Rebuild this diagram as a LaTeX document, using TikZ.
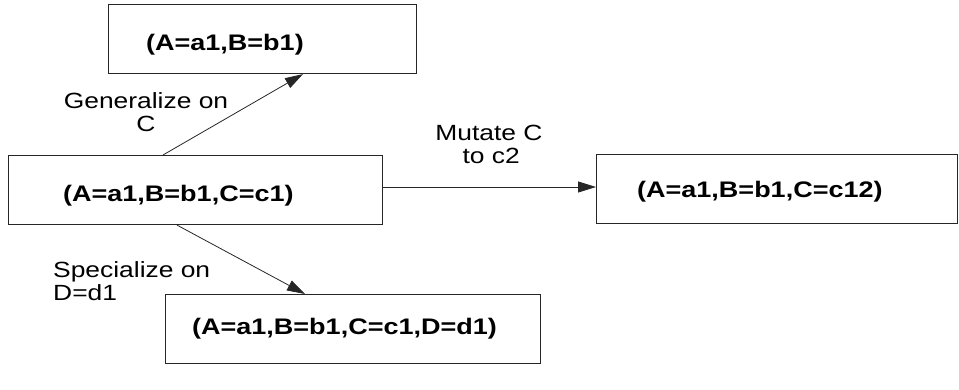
\documentclass[tikz,border=0pt]{standalone}
\usepackage{fontspec}
\usepackage{graphicx}
\setmainfont{Liberation Sans}
\usetikzlibrary{arrows.meta,calc}
\newcommand{\hwide}[1]{\scalebox{1.2}[1]{#1}}
\begin{document}
\begin{tikzpicture}[x=1pt,y=-1pt,
  box/.style={draw=black!85, line width=1.1pt, minimum width=#1, minimum height=69pt, inner sep=0pt, anchor=north west},
  boxtext/.style={inner sep=0pt, anchor=west, font=\bfseries\fontsize{22.5}{27}\selectfont},
  lbl/.style={inner sep=0pt, font=\fontsize{22}{23}\selectfont},
  arr/.style={draw=black!85, line width=0.8pt, -{Triangle[length=18pt,width=11pt]}}]
\useasboundingbox (0,0) rectangle (959,390);
% boxes
\node[box=308pt] (b1) at (108,4) {};
\node[box=374pt] (b2) at (8,155) {};
\node[box=361pt] (b3) at (596,154) {};
\node[box=375pt] (b4) at (165,294) {};
% box texts
\node[boxtext] (t1) at (146,45) {\hwide{(A=a1,B=b1)}};
\node[boxtext] (t2) at (63,196) {\hwide{(A=a1,B=b1,C=c1)}};
\node[boxtext] (t3) at (637,192) {\hwide{(A=a1,B=b1,C=c12)}};
\node[boxtext] (t4) at (192,329) {\hwide{(A=a1,B=b1,C=c1,D=d1)}};
% connector end points on the boxes
\coordinate (g1) at ($(b2.north west)+(155,0)$);
\coordinate (g2) at ($(b1.south west)+(195,0)$);
\coordinate (m1) at ($(b2.north east)+(0,32)$);
\coordinate (m2) at ($(b3.north west)+(0,33)$);
\coordinate (s1) at ($(b2.south west)+(169,0)$);
\coordinate (s2) at ($(b4.north west)+(140,0)$);
\draw[arr] (g1) -- (g2);
\draw[arr] (m1) -- (m2);
\draw[arr] (s1) -- (s2);
% connector labels
\node[lbl, align=center] (lg) at (146,112) {\hwide{Generalize on}\\\hwide{C}};
\node[lbl, align=center] (lm) at (489,144) {\hwide{Mutate C}\\\hwide{\,to c2}};
\node[lbl, align=left, anchor=west] (ls) at (53,281) {\hwide{Specialize on}\\\hwide{D=d1}};
\end{tikzpicture}
\end{document}
